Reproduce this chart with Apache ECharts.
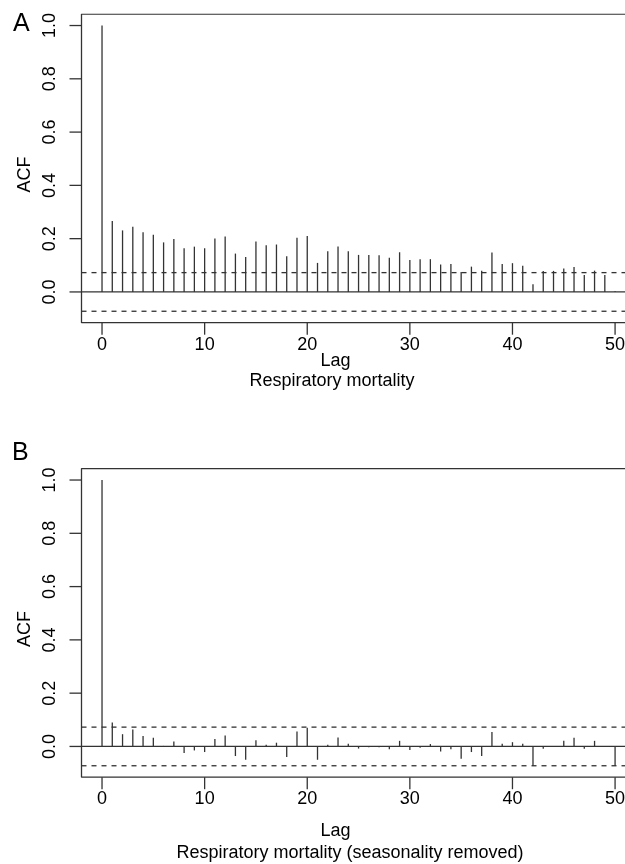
<!DOCTYPE html>
<html>
<head>
<meta charset="utf-8">
<script src="https://cdn.jsdelivr.net/npm/echarts@6/dist/echarts.min.js"></script>
<style>
html,body{margin:0;padding:0;background:#fff;}
#chart{width:625px;height:864px;}
</style>
</head>
<body>
<div id="chart"></div>
<script>
// ---- data ----
const lags = [0,1,2,3,4,5,6,7,8,9,10,11,12,13,14,15,16,17,18,19,20,21,22,23,24,25,26,27,28,29,30,31,32,33,34,35,36,37,38,39,40,41,42,43,44,45,46,47,48,49,50];
const acfA = [1.000,0.266,0.231,0.245,0.224,0.215,0.186,0.199,0.164,0.170,0.164,0.201,0.208,0.144,0.131,0.189,0.175,0.178,0.134,0.203,0.210,0.109,0.153,0.171,0.153,0.139,0.139,0.138,0.128,0.149,0.120,0.123,0.123,0.103,0.105,0.075,0.095,0.080,0.148,0.105,0.108,0.098,0.029,0.079,0.079,0.088,0.094,0.064,0.080,0.064,0.003];
const acfB = [1.000,0.090,0.046,0.064,0.039,0.033,0.002,0.019,-0.025,-0.015,-0.021,0.028,0.041,-0.036,-0.050,0.023,0.006,0.014,-0.040,0.056,0.070,-0.050,0.006,0.034,0.010,-0.008,-0.003,-0.003,-0.011,0.021,-0.013,-0.005,0.009,-0.019,-0.011,-0.046,-0.021,-0.036,0.054,0.010,0.016,0.010,-0.073,-0.009,-0.002,0.021,0.033,-0.009,0.021,0.001,-0.073];
const ciA = 0.0725;
const ciB = 0.0725;
const xTicks = [0,10,20,30,40,50];
const yTicks = [0,0.2,0.4,0.6,0.8,1.0];
const panelLetters = ['A','B'];
const xTitle = 'Lag';
const yTitle = 'ACF';
const subtitles = ['Respiratory mortality','Respiratory mortality (seasonality removed)'];

// plot box limits (R style 4% extension)
const xMin = -2, xMax = 52;
const yMin = -0.1154, yMax = 1.0429;
// axis extents reach a little beyond the box so the outward ticks lie inside the grid
const xAxisMin = -3.1695;
const yAxisMin = -0.1605;

const FONT = '"Liberation Sans", Arial, Helvetica, sans-serif';
const INK = '#333';

const grids = [
  {left: 69.5, top: 14.1, width: 566.1, height: 320.6},
  {left: 69.5, top: 468.6, width: 566.1, height: 320.6}
];

function makeAxes(i) {
  const xa = {
    type: 'value', gridIndex: i, min: xAxisMin, max: xMax,
    axisLine: {show: false, onZero: false},
    axisTick: {show: false},
    axisLabel: {show: true, margin: 1, customValues: xTicks, color: '#000', fontSize: 18, fontFamily: FONT,
      formatter: v => String(v)},
    splitLine: {show: false}
  };
  const ya = {
    type: 'value', gridIndex: i, min: yAxisMin, max: yMax,
    axisLine: {show: false, onZero: false},
    axisTick: {show: false},
    axisLabel: {show: true, margin: 10, rotate: 90, customValues: yTicks, color: '#000', fontSize: 18, fontFamily: FONT,
      formatter: v => v.toFixed(1)},
    splitLine: {show: false},
    name: yTitle, nameLocation: 'middle', nameRotate: 90, nameGap: 31,
    nameTextStyle: {color: '#000', fontSize: 18, fontFamily: FONT}
  };
  return [xa, ya];
}

const axA = makeAxes(0), axB = makeAxes(1);

const lineStyleFn = () => ({stroke: INK, lineWidth: 1.3});

function stemSeries(i, vals) {
  return {
    type: 'custom', xAxisIndex: i, yAxisIndex: i,
    data: lags.map((l, k) => [l, vals[k]]),
    renderItem: function (params, api) {
      const p0 = api.coord([api.value(0), 0]);
      const p1 = api.coord([api.value(0), api.value(1)]);
      return {type: 'line', shape: {x1: p0[0], y1: p0[1], x2: p1[0], y2: p1[1]}, style: lineStyleFn()};
    },
    silent: true, animation: false
  };
}
// box round the plot region
function boxSeries(i) {
  return {
    type: 'line', xAxisIndex: i, yAxisIndex: i,
    data: [[xMax, yMax], [xMin, yMax], [xMin, yMin], [xMax, yMin]],
    showSymbol: false, symbol: 'none', silent: true, animation: false,
    lineStyle: {color: INK, width: 1.3}
  };
}
// outward ticks from the box edge to the axis extent
function xTickSeries(i) {
  return {
    type: 'custom', xAxisIndex: i, yAxisIndex: i, silent: true, animation: false,
    data: xTicks.map(v => [v]),
    renderItem: function (params, api) {
      const a = api.coord([api.value(0), yMin]);
      const b = api.coord([api.value(0), yAxisMin]);
      return {type: 'line', shape: {x1: a[0], y1: a[1], x2: b[0], y2: b[1]}, style: lineStyleFn()};
    }
  };
}
function yTickSeries(i) {
  return {
    type: 'custom', xAxisIndex: i, yAxisIndex: i, silent: true, animation: false,
    data: yTicks.map(v => [xMin, v]),
    renderItem: function (params, api) {
      const a = api.coord([xMin, api.value(1)]);
      const b = api.coord([xAxisMin, api.value(1)]);
      return {type: 'line', shape: {x1: a[0], y1: a[1], x2: b[0], y2: b[1]}, style: lineStyleFn()};
    }
  };
}
function hLine(i, y, dashed) {
  return {
    type: 'line', xAxisIndex: i, yAxisIndex: i, data: [[xMin, y], [xMax, y]],
    showSymbol: false, symbol: 'none', silent: true, animation: false,
    lineStyle: {color: INK, width: 1.3, type: dashed ? [5, 5] : 'solid'}
  };
}

const chart = echarts.init(document.getElementById('chart'), null, {renderer: 'canvas'});
chart.setOption({
  backgroundColor: '#fff',
  animation: false,
  grid: grids.map(g => Object.assign({show: false, containLabel: false, outerBoundsMode: 'none'}, g)),
  xAxis: [axA[0], axB[0]],
  yAxis: [axA[1], axB[1]],
  series: [
    boxSeries(0), hLine(0, 0, false), hLine(0, ciA, true), hLine(0, -ciA, true), stemSeries(0, acfA), xTickSeries(0), yTickSeries(0),
    boxSeries(1), hLine(1, 0, false), hLine(1, ciB, true), hLine(1, -ciB, true), stemSeries(1, acfB), xTickSeries(1), yTickSeries(1)
  ],
  graphic: [
    {type: 'text', left: 13, top: 12, style: {text: panelLetters[0], font: '25px ' + FONT, fill: '#000'}},
    {type: 'text', left: 12, top: 441, style: {text: panelLetters[1], font: '25px ' + FONT, fill: '#000'}},
    {type: 'text', x: 335.5, y: 361, style: {text: xTitle, font: '18px ' + FONT, fill: '#000', textAlign: 'center', textVerticalAlign: 'middle'}},
    {type: 'text', x: 332, y: 381, style: {text: subtitles[0], font: '18px ' + FONT, fill: '#000', textAlign: 'center', textVerticalAlign: 'middle'}},
    {type: 'text', x: 335.5, y: 831, style: {text: xTitle, font: '18px ' + FONT, fill: '#000', textAlign: 'center', textVerticalAlign: 'middle'}},
    {type: 'text', x: 350, y: 853, style: {text: subtitles[1], font: '18px ' + FONT, fill: '#000', textAlign: 'center', textVerticalAlign: 'middle'}}
  ]
});
</script>
</body>
</html>
